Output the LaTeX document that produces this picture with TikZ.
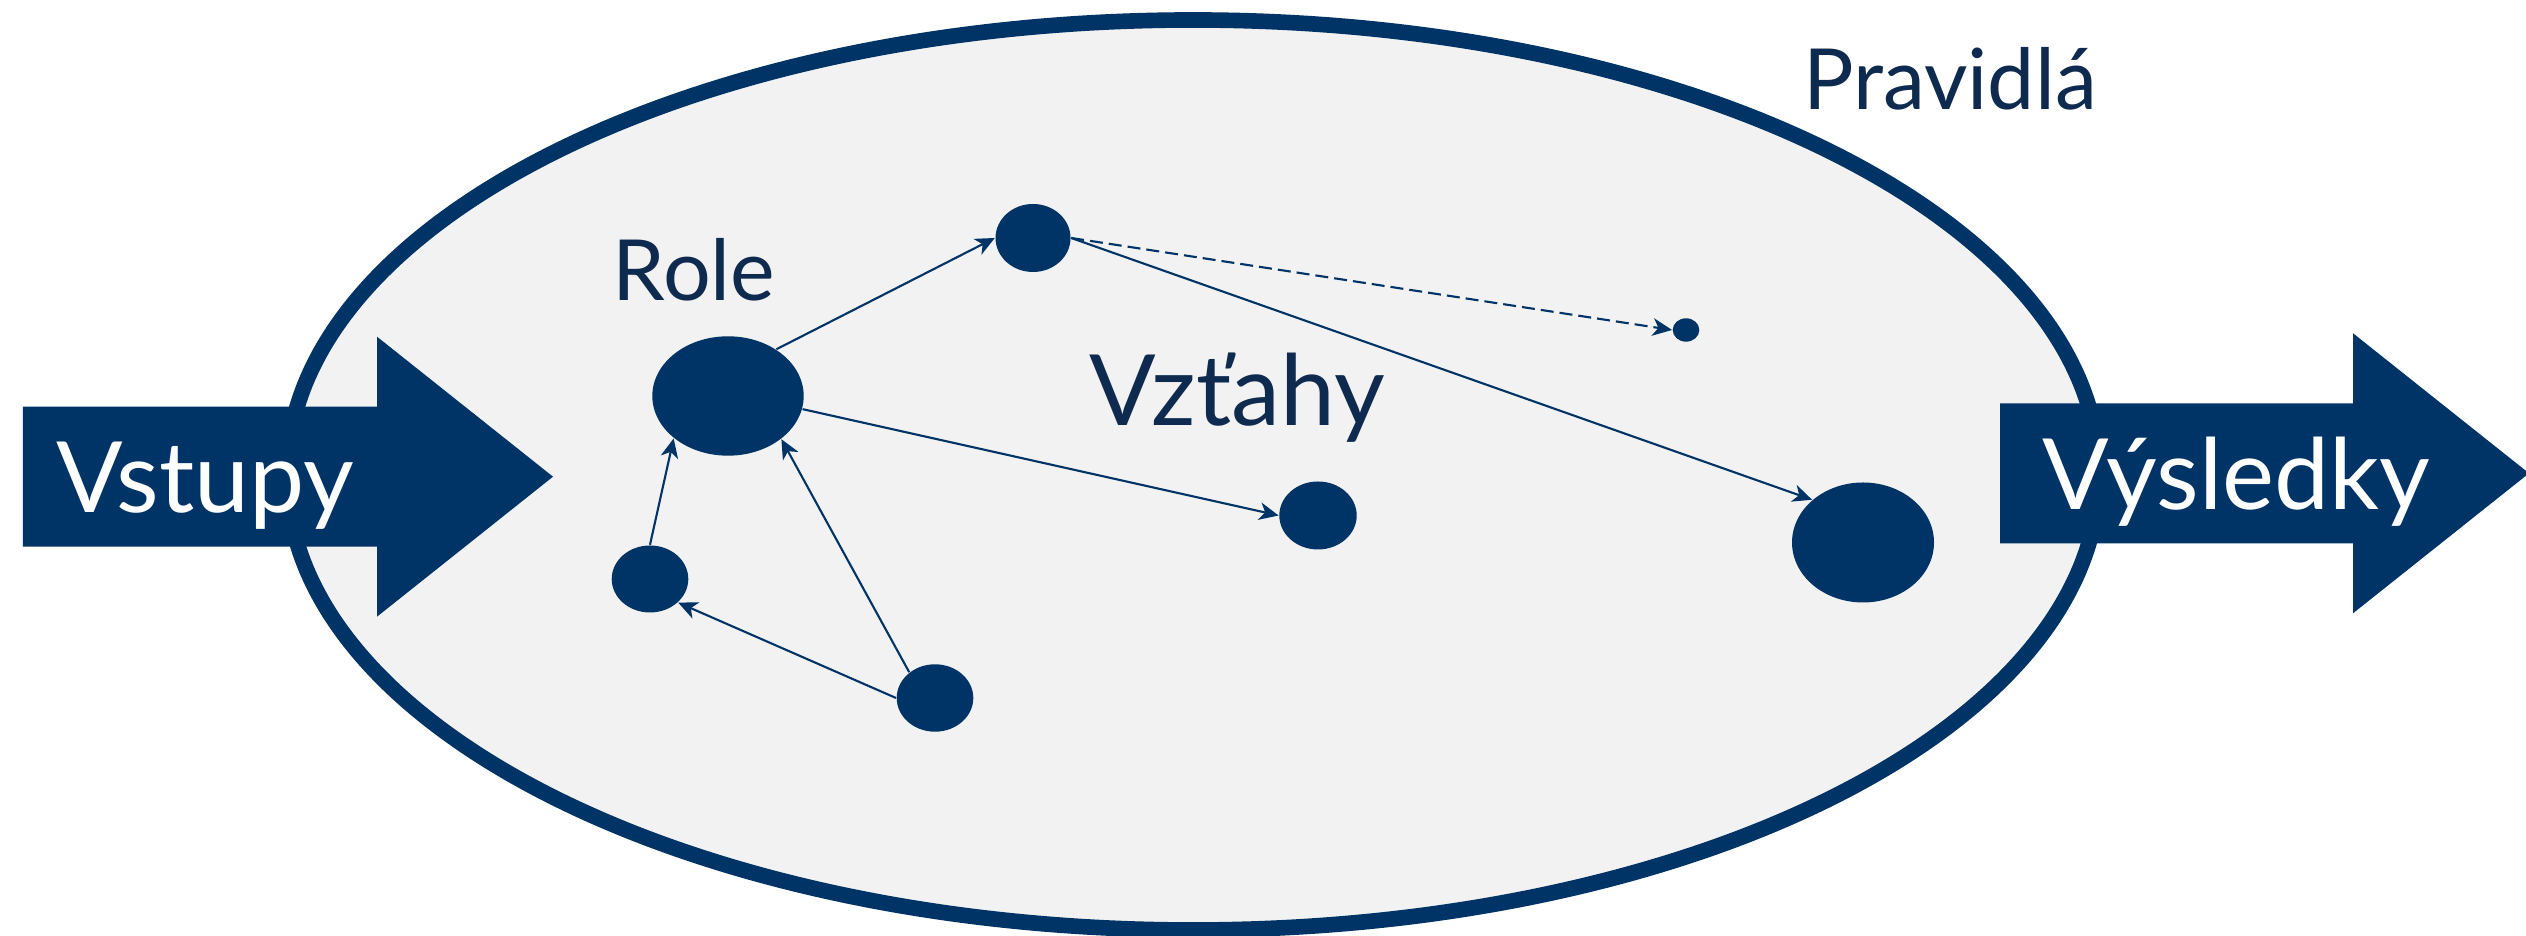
\documentclass[tikz,border=0pt]{standalone}
\usepackage{fontspec}
\setmainfont{Lato}
\usepackage{tikz}
\usetikzlibrary{shapes,arrows.meta,positioning}
\definecolor{navy}{RGB}{0,51,102}
\definecolor{textnavy}{RGB}{14,42,78}
\definecolor{rulegray}{RGB}{242,242,242}

\begin{document}
\begin{tikzpicture}[text=textnavy,
	dot/.style={ellipse, fill=navy, inner sep=0pt},
	link/.style={line width=0.6pt, navy, -{Stealth[length=5.5pt, width=5pt, inset=1.6pt]}},
	heading/.style={font=\fontsize{24}{28}\selectfont, anchor=base},
	arrowtext/.style={font=\fontsize{28}{32}\selectfont, white, anchor=base}]
\def \bodybot {3.893}
\def \bodytop {5.293}
\def \headbot {3.193}
\def \headtop {5.993}
\def \inleft {0.23}
\def \inhead {3.77}
\def \outleft {20.00}
\def \outhead {23.53}

\useasboundingbox (0,0) rectangle (25.26,9.36);

%Rules
\draw[line width=4.45pt, draw=navy, fill=rulegray] (11.93,4.61) ellipse (9.06cm and 4.55cm);
\node[heading] (pravidla) at (19.50,8.26) {Pravidlá};

%Input arrow
\fill[navy] (\inleft,\bodybot) -- (\inleft,\bodytop) -- (\inhead,\bodytop) -- (\inhead,\headtop) -- (5.53,4.593) -- (\inhead,\headbot) -- (\inhead,\bodybot) -- cycle;
\node[arrowtext] (vstupy) at (2.055,4.23) {Vstupy};

%Output arrow
\fill[navy] (\outleft,{\bodybot+0.034}) -- (\outleft,{\bodytop+0.034}) -- (\outhead,{\bodytop+0.034}) -- (\outhead,{\headtop+0.034}) -- (25.29,4.627) -- (\outhead,{\headbot+0.034}) -- (\outhead,{\bodybot+0.034}) -- cycle;
\node[arrowtext] (vysledky) at (22.36,4.26) {Výsledky};

%Roles
\node[dot, minimum width=1.514cm, minimum height=1.194cm] (role) at (7.28,5.40) {};
\node[heading] (roletext) at (6.94,6.353) {Role};
\node[dot, minimum width=0.75cm, minimum height=0.68cm] (upper) at (10.33,6.98) {};
\node[dot, minimum width=0.266cm, minimum height=0.234cm] (far) at (16.86,6.06) {};
\node[dot, minimum width=0.774cm, minimum height=0.68cm] (middle) at (13.18,4.205) {};
\node[dot, minimum width=1.42cm, minimum height=1.20cm] (result) at (18.63,3.935) {};
\node[dot, minimum width=0.766cm, minimum height=0.67cm] (left) at (6.50,3.57) {};
\node[dot, minimum width=0.766cm, minimum height=0.674cm] (lower) at (9.35,2.38) {};
\node[heading, font=\fontsize{28}{32}\selectfont] (vztahy) at (12.37,5.10) {Vzťahy};

%Relations
\draw[link] (role.44) -- (upper.west);
\draw[link] (role.-10) -- (middle.west);
\draw[link] (upper.east) -- (result.140);
\draw[link, dash pattern=on 1.3mm off 0.6mm] (upper.east) -- (far.west);
\draw[link] (left.north) -- (role.-142);
\draw[link] (lower.135) -- (role.-39);
\draw[link] (lower.west) -- (left.-40);

\end{tikzpicture}
\end{document}
